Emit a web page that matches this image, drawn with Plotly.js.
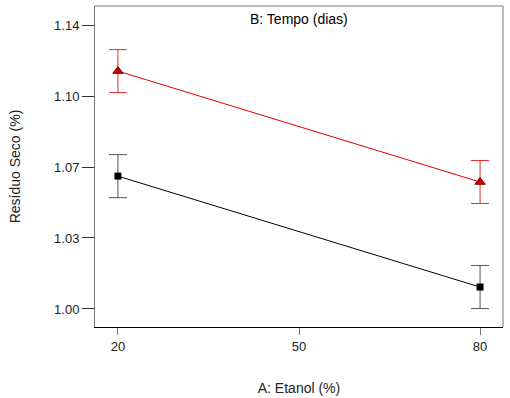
<!DOCTYPE html>
<html><head><meta charset="utf-8">
<script src="https://cdn.plot.ly/plotly-3.0.1.min.js"></script>
<style>html,body{margin:0;padding:0;background:#fff}#c{width:510px;height:398px}</style>
</head><body><div id="c"></div>
<script>
const etanol = [20, 80];
const tempoLow = [1.0655, 1.0108];
const tempoHigh = [1.1173, 1.0626];
const errLow = [0.0106, 0.0106];
const errHigh = [0.0106, 0.0106];
const yTickVals = [1.00, 1.035, 1.07, 1.105, 1.14];
const yTickText = ["1.00", "1.03", "1.07", "1.10", "1.14"];
const xTickVals = [20, 50, 80];

const traces = [
  {x: etanol, y: tempoLow, type: 'scatter', mode: 'lines+markers',
   line: {color: '#000', width: 1},
   marker: {symbol: 'square', size: 7, color: '#000'},
   error_y: {type: 'data', array: errLow, visible: true, color: '#555', thickness: 1, width: 9}},
  {x: etanol, y: tempoHigh, type: 'scatter', mode: 'lines+markers',
   line: {color: '#e00000', width: 1},
   marker: {symbol: 'triangle-up', size: 9, color: '#cc0000', line: {color: '#800000', width: 1}},
   error_y: {type: 'data', array: errHigh, visible: true, color: '#e03030', thickness: 1, width: 9}}
];
const layout = {
  width: 510, height: 398,
  margin: {l: 95, r: 7, t: 6, b: 71},
  showlegend: false,
  paper_bgcolor: '#fff', plot_bgcolor: '#fff',
  font: {family: 'Arial, Liberation Sans, sans-serif', size: 13, color: '#222'},
  xaxis: {range: [16.2, 83.8], tickvals: xTickVals, ticks: 'outside', ticklen: 7, tickcolor: '#777',
    showgrid: false, zeroline: false, showline: true, linecolor: '#000', linewidth: 1, mirror: false,
    title: {text: 'A: Etanol (%)', font: {size: 14}, standoff: 30}},
  yaxis: {range: [0.9911, 1.1494], tickvals: yTickVals, ticktext: yTickText, ticks: 'outside', ticklen: 12, tickcolor: '#333',
    showgrid: false, zeroline: false, showline: true, linecolor: '#777', linewidth: 1,
    title: {text: 'Resíduo Seco (%)', font: {size: 14}, standoff: 30}},
  shapes: [
    {type: 'line', xref: 'paper', yref: 'paper', x0: 0, x1: 1, y0: 1, y1: 1, line: {color: '#777', width: 1}},
    {type: 'line', xref: 'paper', yref: 'paper', x0: 1, x1: 1, y0: 0, y1: 1, line: {color: '#777', width: 1}}
  ],
  annotations: [{text: 'B: Tempo (dias)', xref: 'paper', yref: 'paper', x: 0.5, y: 0.99, yanchor: 'top', showarrow: false, font: {size: 14, color: '#000'}}]
};
Plotly.newPlot('c', traces, layout, {displayModeBar: false, staticPlot: true});
</script></body></html>
